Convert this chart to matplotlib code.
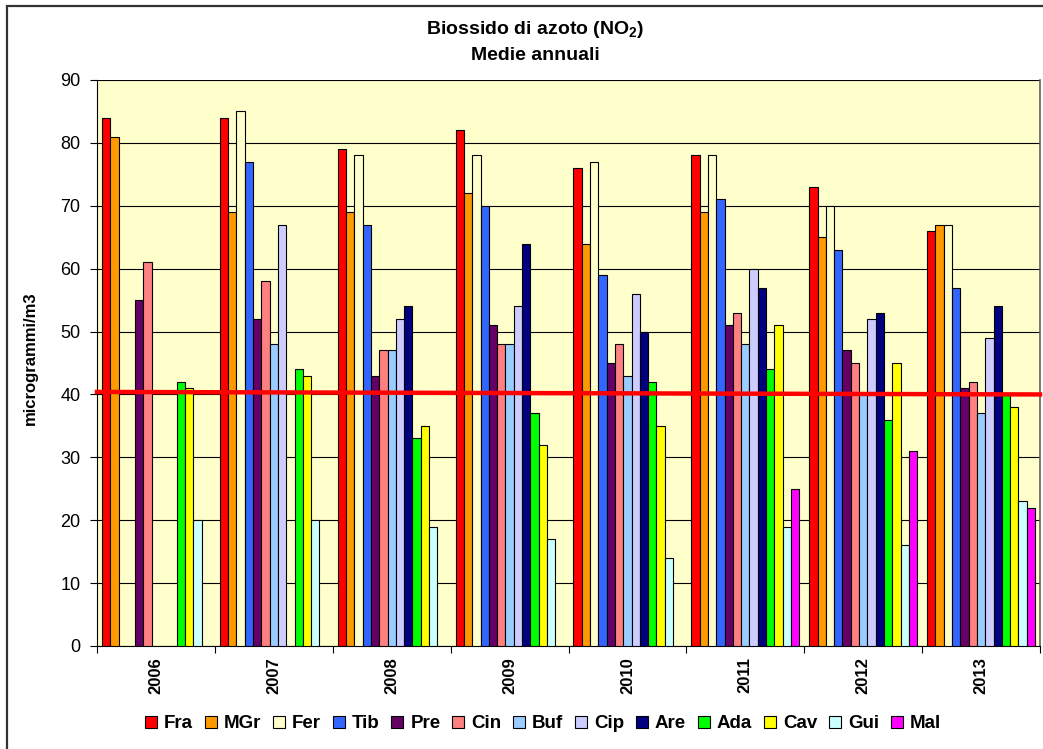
import numpy as np
import matplotlib
matplotlib.use("Agg")
import matplotlib.pyplot as plt
from matplotlib.patches import Rectangle

plt.rcParams['font.family'] = ['Liberation Sans', 'DejaVu Sans']
plt.rcParams['mathtext.fontset'] = 'custom'
plt.rcParams['mathtext.rm'] = 'Liberation Sans'
plt.rcParams['mathtext.bf'] = 'Liberation Sans:bold'

years = ['2006', '2007', '2008', '2009', '2010', '2011', '2012', '2013']
nan = np.nan

# medie annuali NO2 per stazione (microgrammi/m3)
fra = [84, 84, 79, 82, 76, 78, 73, 66]
mgr = [81, 69, 69, 72, 64, 69, 65, 67]
fer = [nan, 85, 78, 78, 77, 78, 70, 67]
tib = [nan, 77, 67, 70, 59, 71, 63, 57]
pre = [55, 52, 43, 51, 45, 51, 47, 41]
cin = [61, 58, 47, 48, 48, 53, 45, 42]
buf = [nan, 48, 47, 48, 43, 48, 40, 37]
cip = [nan, 67, 52, 54, 56, 60, 52, 49]
are = [nan, nan, 54, 64, 50, 57, 53, 54]
ada = [42, 44, 33, 37, 42, 44, 36, 40]
cav = [41, 43, 35, 32, 35, 51, 45, 38]
gui = [20, 20, 19, 17, 14, 19, 16, 23]
mal = [nan, nan, nan, nan, nan, 25, 31, 22]

stations = ['Fra', 'MGr', 'Fer', 'Tib', 'Pre', 'Cin', 'Buf', 'Cip', 'Are', 'Ada', 'Cav', 'Gui', 'Mal']
series = [fra, mgr, fer, tib, pre, cin, buf, cip, are, ada, cav, gui, mal]
colors = ['#FF0000', '#FF9900', '#FFFFCC', '#3366FF', '#660066', '#FF8080', '#99CCFF',
          '#CCCCFF', '#000080', '#00FF00', '#FFFF00', '#CCFFFF', '#FF00FF']

# valore limite annuale (linea rossa)
limite = [40.4, 40.0]

fig = plt.figure(figsize=(10.43, 7.49), dpi=100)
ax = fig.add_axes([97 / 1043, 1 - 646 / 749, 943 / 1043, 566 / 749])
ax.set_facecolor('#FFFFCC')

x = np.arange(len(years))
w = 0.0704
n = len(stations)
for i, (name, vals, c) in enumerate(zip(stations, series, colors)):
    ax.bar(x + (i - (n - 1) / 2) * w, vals, width=w, color=c, edgecolor='black',
           linewidth=0.8, label=name, zorder=3)

ax.plot([-0.5, 7.5], limite, color='#FF0000', linewidth=3.2, zorder=5, clip_on=False)

ax.set_xlim(-0.5, 7.5)
ax.set_ylim(0, 90)
ax.set_yticks(range(0, 91, 10))
ax.tick_params(axis='y', labelsize=13, length=5, direction='out', pad=7)
ax.set_xticks(np.arange(-0.5, 8, 1))
ax.set_xticklabels([])
ax.set_xticks(x, minor=True)
ax.set_xticklabels(years, minor=True, rotation=90, fontsize=12, fontweight='bold')
ax.tick_params(axis='x', which='major', length=5, direction='out')
ax.tick_params(axis='x', which='minor', length=0, pad=8)
ax.grid(axis='y', color='black', linewidth=0.8, zorder=0)
ax.set_axisbelow(True)
ax.spines['top'].set_visible(False)
ax.spines['right'].set_color('#606060')
ax.spines['right'].set_linewidth(1.2)

fig.text(30 / 1043, 1 - 358 / 749, 'microgrammi/m3', rotation=90, fontsize=12,
         fontweight='bold', ha='center', va='center')
fig.text(535 / 1043, 1 - 29 / 749, r'Biossido di azoto (NO$_\mathbf{2}$)', fontsize=14,
         fontweight='bold', ha='center', va='center')
fig.text(535 / 1043, 1 - 55 / 749, 'Medie annuali', fontsize=14,
         fontweight='bold', ha='center', va='center')

leg = fig.legend(loc='center', bbox_to_anchor=(543 / 1043, 1 - 724 / 749), ncol=n,
                 frameon=False, handlelength=0.65, handleheight=0.65, handletextpad=0.37,
                 columnspacing=0.62, borderpad=0, prop={'weight': 'bold', 'size': 13.5})

fig.patches.append(Rectangle((7 / 1043, -0.05), 1.1, 1.05 - 6 / 749, transform=fig.transFigure,
                             fill=False, edgecolor='#333333', linewidth=1.6))

fig.savefig('out.png', dpi=100)
